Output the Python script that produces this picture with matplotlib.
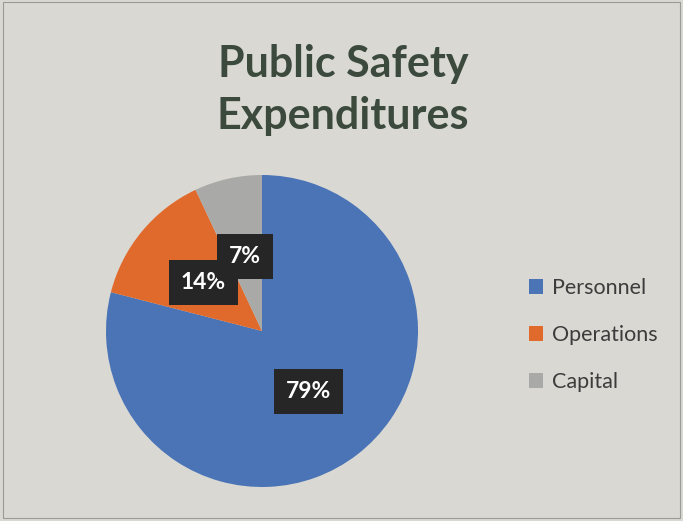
import matplotlib
matplotlib.use("Agg")
import matplotlib.pyplot as plt

# Expenditure shares (percent)
categories = ["Personnel", "Operations", "Capital"]
shares = [79, 14, 7]
colors = ["#4a74b6", "#e0692c", "#a9a9a7"]

title = "Public Safety\nExpenditures"

W, H = 683, 521
fig = plt.figure(figsize=(W / 100, H / 100), dpi=100)
fig.patch.set_facecolor("#d9d8d3")

# thin frame round the chart area
frame = plt.Rectangle((0.004, 0.006), 0.992, 0.99, transform=fig.transFigure,
                      fill=False, edgecolor="#9a9a96", linewidth=0.8)
fig.patches.append(frame)

# pie axes, square in pixels
cx, cy, r = 262, 331, 156
ax = fig.add_axes([(cx - r) / W, (H - cy - r) / H, 2 * r / W, 2 * r / H])
ax.set_facecolor("none")

wedges, texts, autotexts = ax.pie(
    shares, colors=colors, startangle=90, counterclock=False,
    autopct=lambda p: f"{p:.0f}%", pctdistance=0.49, radius=1,
    wedgeprops=dict(linewidth=0),
    textprops=dict(family="Lato", fontsize=16.5, fontweight="bold", color="white"),
)
for t in autotexts:
    t.set_bbox(dict(boxstyle="square,pad=0.52", facecolor="#262626", edgecolor="none"))
ax.set_xlim(-1, 1)
ax.set_ylim(-1, 1)
ax.set_aspect("auto")
ax.axis("off")

fig.text(343 / W, 1 - 90 / H, title, ha="center", va="center", family="Lato",
         fontweight="bold", fontsize=31, color="#3b4a3c", linespacing=1.38)

leg = fig.legend(wedges, categories, loc="center left",
                 bbox_to_anchor=(510 / W, 1 - 335 / H), frameon=False,
                 prop=dict(family="Lato", size=15.5), labelcolor="#3c3c3c",
                 handlelength=0.65, handleheight=0.65, handletextpad=0.4,
                 labelspacing=1.25)

fig.savefig("out.png", dpi=100, facecolor=fig.get_facecolor())
